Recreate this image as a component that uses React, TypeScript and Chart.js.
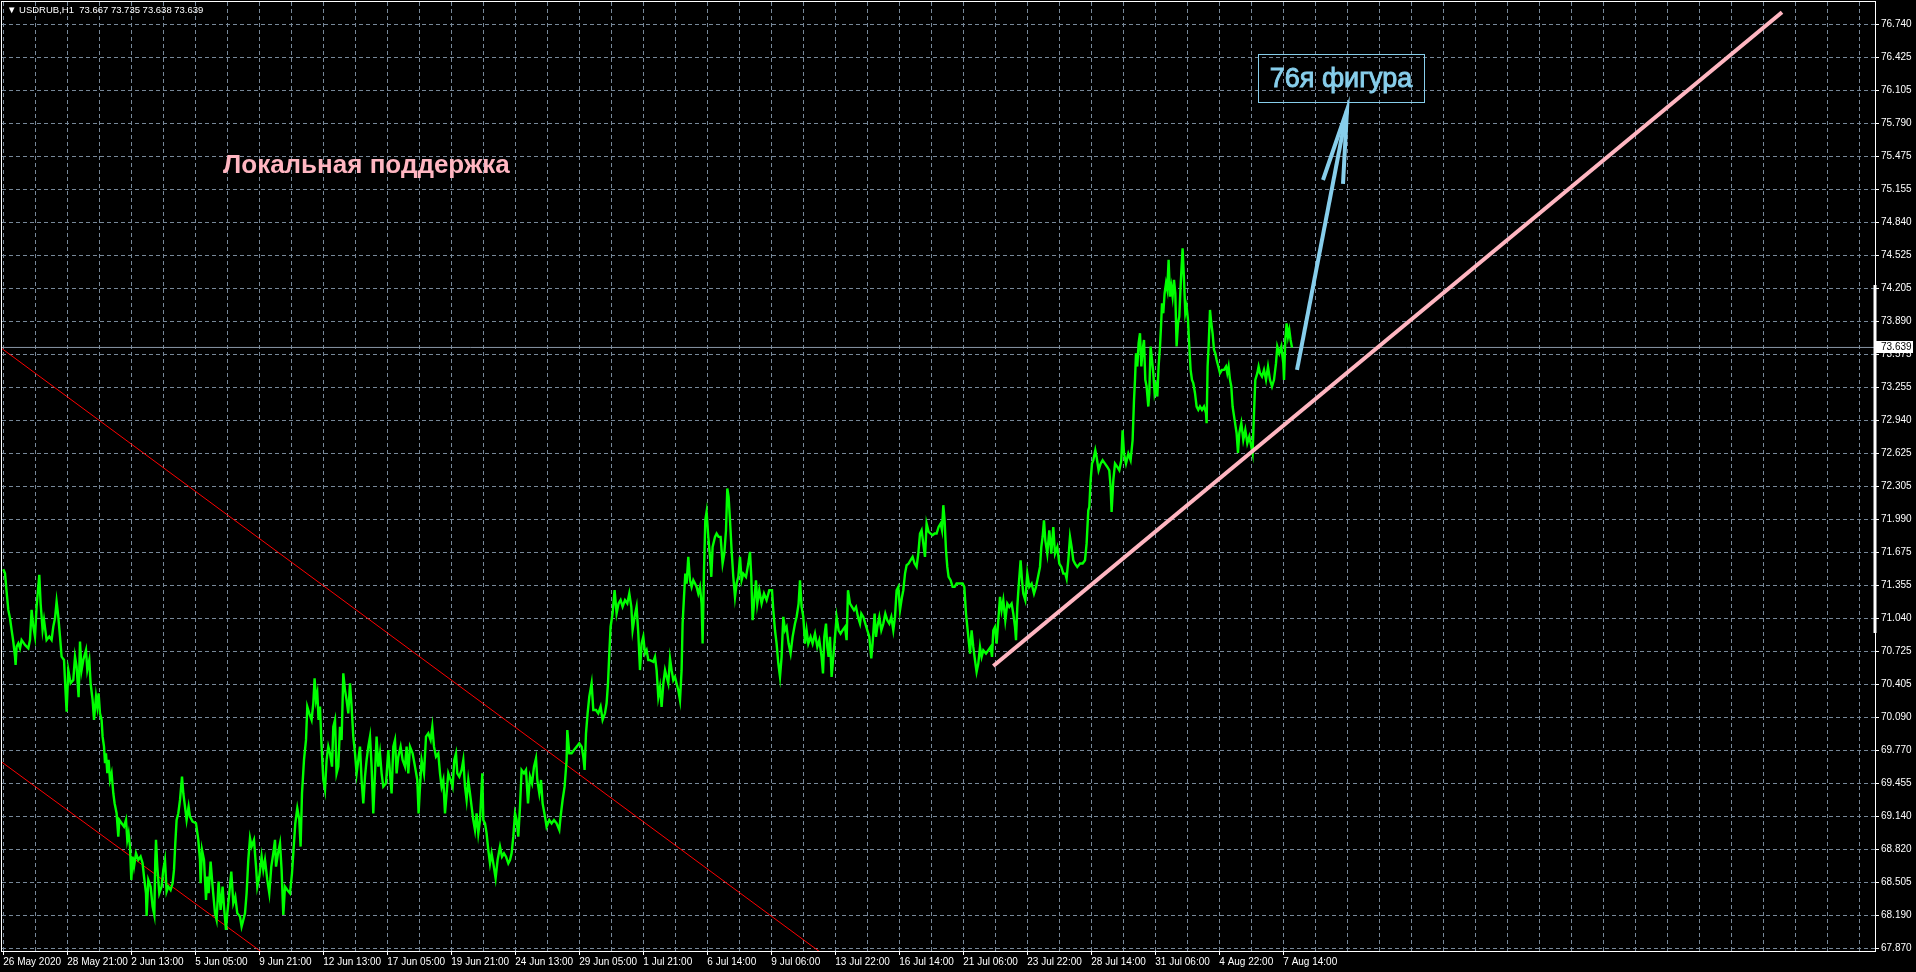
import React, { useEffect, useRef } from 'react';
import { Chart, registerables } from 'chart.js';

Chart.register(...registerables);

// ---------- text ----------
const symbolHeader = '\u25BC USDRUB,H1  73.667 73.735 73.638 73.639';
const lastPrice = 73.639;

// ---------- axes ----------
const xTickLabels = [
  '26 May 2020', '28 May 21:00', '2 Jun 13:00', '5 Jun 05:00', '9 Jun 21:00', '12 Jun 13:00',
  '17 Jun 05:00', '19 Jun 21:00', '24 Jun 13:00', '29 Jun 05:00', '1 Jul 21:00', '6 Jul 14:00',
  '9 Jul 06:00', '13 Jul 22:00', '16 Jul 14:00', '21 Jul 06:00', '23 Jul 22:00', '28 Jul 14:00',
  '31 Jul 06:00', '4 Aug 22:00', '7 Aug 14:00',
];
const barsPerLabel = 64; // H1 bars between two time labels
const xBarMin = -1.3;
const xBarMax = 1871.7;

const yTickLabels = [
  '67.870', '68.190', '68.505', '68.820', '69.140', '69.455', '69.770', '70.090', '70.405', '70.725',
  '71.040', '71.355', '71.675', '71.990', '72.305', '72.625', '72.940', '73.255', '73.575', '73.890',
  '74.205', '74.525', '74.840', '75.155', '75.475', '75.790', '76.105', '76.425', '76.740',
];
const yMin = 67.847;
const yMax = 76.954;

// ---------- price series (bar index, price) ----------
const priceMayJun: [number, number][] = [
  [0,71.510],[1.7,71.472],[3.3,71.296],[5,71.120],[6.7,71.040],[8.3,70.928],[10,70.816],[11.7,70.672],[12.3,70.592],[13.3,70.768],
  [15,70.800],[16.7,70.752],[18.3,70.832],[21.7,70.784],[25,70.752],[26.7,70.832],[28.3,71.120],[30,70.960],[31.7,70.864],[33.3,71.152],
  [36,71.456],[37.3,71.184],[39.3,70.928],[40.7,71.024],[43.3,70.832],[46,70.864],[48.3,70.832],[50,70.960],[51.7,71.040],[53.3,71.200],
  [55,71.056],[56.7,70.864],[58.3,70.672],[60.7,70.640],[62,70.384],[63.3,70.144],[65,70.544],[67.3,70.416],[70,70.448],[71.7,70.672],
  [73.3,70.576],[75.3,70.282],[76.7,70.816],[78.3,70.544],[80,70.640],[82.7,70.736],[84,70.544],[86,70.640],[87.3,70.416],[89.3,70.256],
  [90.7,70.064],[92.7,70.288],[94,70.192],[95.3,70.320],[96.7,70.128],[98.3,70.064],[99.3,69.904],[100.7,69.808],[101.7,69.649],[102.7,69.745],
  [104,69.553],[105.3,69.681],[106.7,69.489],[108.3,69.553],[110,69.361],[111.3,69.265],[113.3,69.169],[115,68.945],[116,69.105],[118.3,69.073],
  [120.7,69.041],[122.7,69.105],[124,68.913],[125.3,68.977],[126.7,68.849],[128,68.529],[129.3,68.753],[130.7,68.657],[132.7,68.785],[135,68.721],
  [137.3,68.753],[139.3,68.689],[140.7,68.561],[142.7,68.401],[143.3,68.183],[145,68.529],[147.3,68.465],[149.3,68.273],[151,68.193],[152,68.721],
  [152.7,68.913],[154,68.657],[156,68.401],[158.3,68.465],[160,68.625],[161.7,68.721],[163.3,68.417],[165,68.465],[167.3,68.433],[169.3,68.497],
  [170.7,68.625],[172,68.881],[173.3,69.105],[175,69.169],[176.7,69.297],[178.7,69.521],[180,69.361],[181.7,69.233],[183.3,69.105],[185.3,69.233],
  [186.7,69.137],[189.3,69.089],[192.7,69.073],[195,68.913],[196.7,68.721],[197.3,68.497],[198.7,68.817],[200.7,68.721],[202.7,68.337],[204,68.561],
  [205.3,68.401],[207.3,68.705],[209.3,68.465],[211.7,68.209],[213.3,68.145],[215.3,68.513],[217.3,68.241],[219.3,68.465],[220.7,68.273],[222.7,68.049],
  [224,68.209],[226,68.401],[228,68.609],[230,68.305],[232,68.369],[234,68.209],[236.7,68.177],[238.3,68.081],[240,68.145],[241.7,68.209],
  [243.3,68.401],[245,68.721],[246.7,68.929],[248.3,68.849],[250.7,68.913],[252.7,68.657],[254,68.465],[256,68.561],[258.3,68.753],[260,68.625],
  [261.7,68.721],[264,68.529],[266,68.401],[268,68.657],[270,68.785],[271.7,68.913],[272.7,68.657],[274.7,68.785],[276.7,68.881],[278.3,68.625],
  [280,68.193],[281.7,68.465],[284,68.433],[286.7,68.401],[288.7,68.593],[290,68.785],[292,69.073],[294,69.217],[296,69.105],[297.3,68.849],
  [298.7,69.361],[300.7,69.681],[302.7,69.873],[304,70.192],[306,70.128],[308.3,70.064],[310,70.224],[311.3,70.464],[312.7,70.256],[314,70.320],
  [315.3,70.064],[316.7,70.192],[318.3,69.809],[320,69.489],[321.7,69.393],[323.3,69.681],[325,69.809],
];

const priceJunJul: [number, number][] = [
  [326.7,69.744],[328.7,69.616],[330,69.999],[331.7,70.064],[333.3,69.552],[335,69.616],[336.7,69.999],[338.3,69.872],[340,70.511],[341.7,70.351],
  [343.3,70.255],[345,70.128],[346.7,70.415],[348.3,70.192],[350,69.904],[351.7,69.744],[353.3,69.552],[355,69.680],[356.7,69.808],[358.3,69.488],
  [360,69.264],[361.7,69.520],[363.3,69.680],[365,69.808],[366.7,69.904],[368.3,69.616],[370,69.168],[371.7,69.552],[373.3,69.904],[375,69.616],
  [376.7,69.744],[378.3,69.552],[380,69.424],[382.7,69.456],[385,69.776],[386.7,69.552],[388.3,69.360],[390,69.808],[391.7,69.872],[393.3,69.552],
  [395,69.712],[397.3,69.808],[399.3,69.680],[401.7,69.616],[403.3,69.808],[405,69.552],[406.7,69.808],[409.3,69.744],[411.7,69.616],[414,69.488],
  [415.3,69.168],[416.7,69.424],[418.3,69.680],[420.7,69.552],[422.7,69.904],[425,69.936],[427.3,69.872],[429,69.999],[430.7,69.808],[432.7,69.712],
  [435,69.744],[436.7,69.552],[438.3,69.424],[440,69.488],[441.7,69.168],[443.3,69.360],[445,69.552],[447.3,69.488],[449.3,69.424],[451,69.680],
  [452.7,69.744],[454,69.552],[456,69.520],[458.3,69.584],[460,69.680],[461.7,69.424],[463.3,69.296],[465,69.488],[466.7,69.360],[468.3,69.232],
  [470,69.104],[471.7,69.008],[473.3,69.168],[475,68.976],[476.7,69.104],[479,69.552],[480,69.104],[481.7,69.072],[483.3,68.976],[485,68.816],
  [486.7,68.688],[488.3,68.784],[490,68.688],[492.3,68.544],[494.3,68.720],[496.7,68.848],[498.7,68.752],[500.7,68.784],[502.7,68.752],[505,68.688],
  [506.7,68.720],[508.3,68.784],[510,68.944],[511.7,69.168],[513.3,69.104],[515,68.944],[516.7,69.232],[518.3,69.584],[520.7,69.552],[522.7,69.584],
  [524.7,69.264],[526.7,69.520],[528.7,69.456],[530.7,69.616],[532.7,69.696],[534,69.488],[536,69.360],[537.7,69.488],[539.3,69.264],[541.7,69.136],
  [543.3,69.040],[546,69.104],[548.3,69.072],[550.7,69.104],[553.3,69.072],[556,69.008],[557.3,69.136],[559.3,69.296],[561.3,69.424],[563.3,69.680],
  [564,69.968],[566,69.744],[568.3,69.744],[570.7,69.776],[573.3,69.808],[576,69.840],[578.3,69.808],[580,69.712],[581.3,69.584],[582.7,69.936],
  [584.3,70.128],[586,70.287],[588.3,70.416],[590,70.160],[592.7,70.160],[595,70.128],[597.3,70.192],[599.3,70.064],[601.7,70.128],[603.3,70.224],
  [604.7,70.415],[606,70.703],[607.3,70.959],[609.3,71.087],[611.3,71.311],[613.3,71.087],[615.3,71.183],[617.3,71.215],[619.3,71.151],[621.7,71.215],
  [624,71.183],[626,71.279],[628,71.151],[629.3,70.927],[631.3,71.055],[633.3,71.151],[635,70.895],[636.7,70.543],[638.3,70.799],[640,70.863],
  [641.7,70.703],[643.3,70.735],[645,70.639],
];

const priceJul: [number, number][] = [
  [646.7,70.638],[650,70.622],[651.7,70.670],[653.3,70.542],[655,70.286],[656.7,70.382],[658.3,70.190],[660,70.414],[661.7,70.542],[663.3,70.478],
  [665,70.414],[666.7,70.654],[668.3,70.542],[670,70.446],[671.7,70.478],[673.3,70.414],[675,70.350],[676.7,70.254],[678.3,70.542],[679.3,70.989],
  [680.7,71.245],[682,71.469],[683.3,71.373],[685,71.629],[686.7,71.405],[688.3,71.341],[690,71.405],[691.7,71.373],[693.3,71.341],[695,71.277],
  [696.7,71.341],[698.3,71.181],[699.3,70.798],[700.7,71.501],[702,71.981],[703.3,72.061],[705,71.821],[706.7,71.629],[708,71.437],[709.3,71.725],
  [711.7,71.821],[713.3,71.853],[715.3,71.821],[717.3,71.821],[719.3,71.565],[721,71.661],[722.7,71.885],[724,72.285],[725.3,72.205],[726.7,71.981],
  [728.3,71.693],[730,71.437],[731.7,71.245],[733.3,71.373],[735,71.437],[736.7,71.629],[738.3,71.405],[740,71.469],[742.7,71.437],[745,71.565],
  [746.7,71.677],[748,71.437],[749.3,71.021],[750.7,71.181],[752.7,71.405],[754,71.181],[756,71.309],[758.3,71.181],[760.7,71.277],[763.3,71.213],
  [766,71.309],[768.7,71.309],[770,71.117],[771.7,70.925],[773.3,70.797],[775,70.606],[776.7,70.478],[778.3,70.670],[780,71.053],[781.7,70.925],
  [783.3,70.957],[785.3,70.797],[787.3,70.702],[789.3,70.862],[791.7,70.989],[793.3,71.053],[795.3,71.181],[796.7,71.405],[798.3,71.149],[800,71.053],
  [801.7,70.797],[803.3,70.925],[805,70.797],[807.3,70.862],[809.3,70.797],[811.7,70.893],[814,70.766],[816,70.830],[818.3,70.670],[819.7,70.510],
  [821,70.862],[822.7,70.989],[824,70.766],[825.3,70.670],[826.7,70.862],[828.3,70.478],[830,70.670],[831.7,70.862],[833.3,71.053],[835.3,70.925],
  [837.3,70.893],[839.3,70.925],[841.7,70.957],[843.3,70.830],[844.7,71.309],[846.7,71.181],[848.7,71.149],[850.7,71.117],[852.7,71.149],[854.7,71.053],
  [856.7,70.989],[858,71.085],[860,71.053],[862,70.989],[864,70.925],[866,70.862],[868,70.654],[869.3,70.798],[871.3,71.085],[872.7,70.862],
  [874,70.957],[876,71.053],[878,70.925],[880,70.989],[882,71.085],[884,71.021],[886,70.989],[888,71.053],[890,70.925],[891.7,71.053],
  [893.3,71.309],[895,71.341],[896.7,71.117],[898.7,71.245],[900,71.309],[901.7,71.469],[903.3,71.549],[905.3,71.565],[907.3,71.597],[909.3,71.629],
  [911.3,71.565],[913.3,71.533],[915,71.661],[916.7,71.853],[918.3,71.885],[920,71.757],[921.7,71.629],[923.3,71.949],[925.3,71.869],[927.3,71.853],
  [929.3,71.837],[931.3,71.853],[933.3,71.853],[935.3,71.917],[937.3,71.949],[938.7,71.885],[940,72.125],[941.3,71.981],[942.7,71.693],[944,71.533],
  [945.3,71.437],[947.3,71.405],[949.3,71.341],[951.3,71.341],[953.3,71.373],[955.3,71.373],[957.3,71.373],[959.3,71.373],[961,71.341],[962.7,71.085],
  [964.7,70.893],
];

const priceJulAug: [number, number][] = [
  [965,70.893],[966.7,70.701],[968.3,70.925],[970,70.765],[971.7,70.637],[973.3,70.525],[975,70.605],[976.7,70.765],[978.3,70.669],[980,70.733],
  [982.7,70.701],[985,70.733],[987.3,70.765],[988.7,70.669],[990,70.925],[991.7,70.957],[993.3,70.797],[995,71.021],[996.7,71.245],[998.3,71.117],
  [1000,71.213],[1002,71.021],[1004,71.181],[1006,71.149],[1008.3,71.181],[1010,71.085],[1011.7,70.957],[1012.7,70.829],[1014,71.149],[1015.3,71.341],
  [1017.3,71.597],[1018.7,71.405],[1020,71.277],[1022,71.213],[1024,71.469],[1026,71.341],[1028.3,71.373],[1030.7,71.277],[1032.7,71.341],[1034.7,71.437],
  [1036.7,71.533],[1038,71.724],[1039.3,71.820],[1040.7,71.980],[1042,71.788],[1044,71.660],[1046,71.884],[1048,71.660],[1050,71.916],[1051.7,71.660],
  [1054,71.724],[1056,71.565],[1058,71.533],[1060,71.468],[1062,71.468],[1063.3,71.420],[1065,71.597],[1066.7,71.820],[1068.3,71.724],[1070,71.597],
  [1071.7,71.565],[1074,71.533],[1076.7,71.565],[1079.3,71.565],[1081.7,71.597],[1083.3,71.756],[1085,72.076],[1086,72.108],[1087.3,72.364],[1088.7,72.524],
  [1090,72.556],[1092,72.652],[1093.3,72.588],[1095.3,72.460],[1097.3,72.524],[1099.3,72.556],[1101.7,72.524],[1104,72.492],[1106,72.460],[1107.3,72.300],
  [1108.3,72.060],[1110,72.364],[1111.7,72.524],[1114,72.492],[1116,72.460],[1118,72.556],[1119.3,72.844],[1120.7,72.620],[1122.7,72.524],[1125,72.620],
  [1127.3,72.556],[1129.3,72.748],[1130.7,73.132],
];

const priceAug: [number, number][] = [
  [1131.7,73.328],[1132.7,73.583],[1134,73.456],[1135.3,73.680],[1136.7,73.775],[1138,73.456],[1139.3,73.616],[1140.7,73.711],[1142,73.328],[1143.3,73.264],
  [1145,73.072],[1146,73.200],[1147.3,73.648],[1148.7,73.520],[1150,73.392],[1151.3,73.200],[1152.7,73.264],[1154,73.168],[1155.3,73.456],[1156.7,73.648],
  [1157.7,73.839],[1158.7,74.063],[1160,73.967],[1161.3,74.159],[1162.7,74.255],[1164,74.191],[1165.3,74.479],[1166.7,74.127],[1168,74.223],[1169.3,74.127],
  [1170.7,74.287],[1172,74.159],[1173.3,73.648],[1174.7,73.871],[1176,73.935],[1177.3,74.223],[1178.3,74.415],[1179.3,74.591],[1180.7,74.287],[1182,73.967],
  [1183.3,74.031],[1184.7,73.903],[1186,73.648],[1187.3,73.424],[1188.7,73.328],[1190,73.296],[1191.7,73.200],[1193.3,73.072],[1195,73.040],[1196.7,73.072],
  [1198.7,73.040],[1200.7,73.072],[1202.7,73.008],[1203.3,72.912],[1204.3,73.456],[1205.3,73.648],[1206.7,73.999],[1208,73.871],[1209.3,73.775],[1210.7,73.616],
  [1212,73.583],[1213.3,73.520],[1215,73.456],[1216.7,73.392],[1218.7,73.424],[1220.7,73.424],[1222.7,73.456],[1224,73.392],[1225.3,73.456],[1226.7,73.328],
  [1228,73.264],[1229.3,73.072],[1231.3,72.944],[1233.3,72.816],[1234.7,72.627],[1236,72.816],[1238,72.912],[1240,72.752],[1242,72.848],[1244,72.720],
  [1246,72.784],[1248,72.688],[1249.3,72.624],[1250.7,73.008],[1252,73.328],[1254,73.392],[1255.3,73.456],[1256.7,73.392],[1258.7,73.360],[1260.7,73.424],
  [1262.7,73.328],[1264.7,73.456],[1266.7,73.328],[1268.7,73.264],[1270.7,73.328],[1272.7,73.488],[1274,73.648],[1276,73.583],[1278,73.648],[1280,73.488],
  [1280.7,73.328],[1282,73.711],[1283.3,73.871],[1284.7,73.743],[1286,73.807],[1287.3,73.711],[1288.7,73.639],
];

// ---------- drawn objects (bar index, price) ----------
const channelUpper: [number, number][] = [[-2, 73.632], [820, 67.814]];
const channelLower: [number, number][] = [[-2, 69.663], [260, 67.825]];
const supportLine: [number, number][] = [[990, 70.582], [1778.7, 76.856]];
const arrowShaft: [number, number][] = [[1293.7, 73.423], [1343.7, 75.917]];
const arrowHead: [number, number][] = [[1319.7, 75.246], [1343.7, 75.917], [1339.7, 75.208]];
const rangeBar: [number, number][] = [[xBarMax, 74.238], [xBarMax, 70.899]];

const supportLabel = { text: 'Локальная поддержка', bar: 219.7, price: 75.313 };
const targetLabel = { text: '76я фигура', bar: 1337.7, price: 76.138 };
const targetBox = { left: 1254.7, right: 1420.7, top: 76.455, bottom: 75.994 };

const FONT = "'Liberation Sans', Arial, sans-serif";
const GRID = '#778899';
const PINK = '#FFB6C1';
const SKY = '#87CEEB';

const toPts = (arr: [number, number][]) => arr.map(([x, y]) => ({ x, y }));

const overlayPlugin = {
  id: 'mtOverlay',
  afterDatasetsDraw(chart: any) {
    const { ctx, scales } = chart;
    const xs = scales.x;
    const ys = scales.y;
    ctx.save();
    // support label
    ctx.font = `bold 26px ${FONT}`;
    ctx.fillStyle = PINK;
    ctx.textAlign = 'left';
    ctx.textBaseline = 'alphabetic';
    ctx.fillText(supportLabel.text, xs.getPixelForValue(supportLabel.bar), ys.getPixelForValue(supportLabel.price));
    // target box + label
    const bl = xs.getPixelForValue(targetBox.left);
    const br = xs.getPixelForValue(targetBox.right);
    const bt = ys.getPixelForValue(targetBox.top);
    const bb = ys.getPixelForValue(targetBox.bottom);
    ctx.strokeStyle = SKY;
    ctx.lineWidth = 1;
    ctx.strokeRect(Math.round(bl) + 0.5, Math.round(bt) + 0.5, Math.round(br - bl), Math.round(bb - bt));
    ctx.font = `27px ${FONT}`;
    ctx.fillStyle = SKY;
    ctx.textAlign = 'center';
    const tx = xs.getPixelForValue(targetLabel.bar);
    const ty = ys.getPixelForValue(targetLabel.price);
    ctx.fillText(targetLabel.text, tx, ty);
    ctx.lineWidth = 0.9;
    ctx.strokeText(targetLabel.text, tx, ty);
    ctx.restore();
  },
  afterDraw(chart: any) {
    const { ctx, chartArea, scales } = chart;
    const ys = scales.y;
    ctx.save();
    // frame
    ctx.strokeStyle = '#ffffff';
    ctx.lineWidth = 1;
    ctx.strokeRect(chartArea.left - 0.5, chartArea.top - 0.5, chartArea.right - chartArea.left + 1, chartArea.bottom - chartArea.top + 1);
    // last price tag
    const py = Math.round(ys.getPixelForValue(lastPrice));
    ctx.fillStyle = '#ffffff';
    ctx.fillRect(chartArea.right + 1, py - 6, 37, 12);
    ctx.fillStyle = '#000000';
    ctx.font = `10px ${FONT}`;
    ctx.textAlign = 'left';
    ctx.textBaseline = 'middle';
    ctx.fillText(lastPrice.toFixed(3), chartArea.right + 6, py + 0.5);
    // header
    ctx.fillStyle = '#ffffff';
    ctx.font = `9.5px ${FONT}`;
    ctx.fillText(symbolHeader, chartArea.left + 5, 10);
    ctx.restore();
  },
};

export default function App() {
  const ref = useRef<HTMLCanvasElement>(null);

  useEffect(() => {
    document.body.style.margin = '0';
    document.body.style.background = '#000';
    const canvas = ref.current;
    if (!canvas) return;

    const lineDs = (label: string, data: [number, number][], color: string, width: number, order: number, extra: any = {}) => ({
      label,
      data: toPts(data),
      borderColor: color,
      backgroundColor: color,
      borderWidth: width,
      pointRadius: 0,
      tension: 0,
      fill: false,
      order,
      ...extra,
    });

    const chart = new Chart(canvas, {
      type: 'line',
      data: {
        datasets: [
          lineDs('last', [[xBarMin, lastPrice], [xBarMax, lastPrice]], '#8a96a6', 1, 9),
          lineDs('channelUpper', channelUpper, '#ff0000', 1, 8),
          lineDs('channelLower', channelLower, '#ff0000', 1, 8),
          lineDs('USDRUB', [...priceMayJun, ...priceJunJul, ...priceJul, ...priceJulAug, ...priceAug], '#00ff00', 2.4, 5),
          lineDs('support', supportLine, PINK, 4, 3),
          lineDs('arrowShaft', arrowShaft, SKY, 4, 2),
          lineDs('arrowHead', arrowHead, SKY, 4, 2, { borderJoinStyle: 'miter' }),
          lineDs('range', rangeBar, '#ffffff', 3, 1, { clip: false }),
        ],
      },
      options: {
        animation: false,
        responsive: false,
        devicePixelRatio: 1,
        events: [],
        layout: { padding: { left: 2, top: 2, right: 0, bottom: 0 } },
        plugins: {
          legend: { display: false },
          tooltip: { enabled: false },
          title: { display: false },
        },
        scales: {
          x: {
            type: 'linear',
            position: 'bottom',
            min: xBarMin,
            max: xBarMax,
            afterBuildTicks: (s: any) => {
              const t = [];
              for (let b = 0; b <= xBarMax; b += barsPerLabel / 2) t.push({ value: b });
              s.ticks = t;
            },
            afterFit: (s: any) => {
              s.height = 21;
              s.paddingLeft = 0; s.paddingRight = 0; s.paddingTop = 0; s.paddingBottom = 0;
            },
            grid: {
              color: GRID,
              lineWidth: 1,
              drawTicks: true,
              tickLength: 4,
              tickColor: (c: any) => (c.index % 2 === 0 && c.index / 2 < xTickLabels.length ? '#ffffff' : 'rgba(0,0,0,0)'),
            },
            border: { display: false, dash: [4, 3] },
            ticks: {
              autoSkip: false,
              maxRotation: 0,
              minRotation: 0,
              align: 'start',
              padding: 1,
              color: '#ffffff',
              font: { family: FONT, size: 10 },
              callback: (_v: any, i: number) => (i % 2 === 0 ? xTickLabels[i / 2] ?? '' : ''),
            },
          },
          y: {
            type: 'linear',
            position: 'right',
            min: yMin,
            max: yMax,
            afterBuildTicks: (s: any) => {
              s.ticks = yTickLabels.map((l) => ({ value: parseFloat(l) }));
            },
            afterFit: (s: any) => {
              s.width = 41;
              s.paddingLeft = 0; s.paddingRight = 0; s.paddingTop = 0; s.paddingBottom = 0;
            },
            grid: { color: GRID, lineWidth: 1, drawTicks: true, tickLength: 4, tickColor: '#ffffff' },
            border: { display: false, dash: [4, 3] },
            ticks: {
              padding: 2,
              color: '#ffffff',
              font: { family: FONT, size: 10 },
              callback: (_v: any, i: number) => yTickLabels[i],
            },
          },
        },
      } as any,
      plugins: [overlayPlugin],
    });

    return () => chart.destroy();
  }, []);

  return (
    <div style={{ position: 'fixed', left: 0, top: 0, width: 1916, height: 972, background: '#000' }}>
      <canvas ref={ref} width={1916} height={972} style={{ width: 1916, height: 972, display: 'block' }} />
    </div>
  );
}
